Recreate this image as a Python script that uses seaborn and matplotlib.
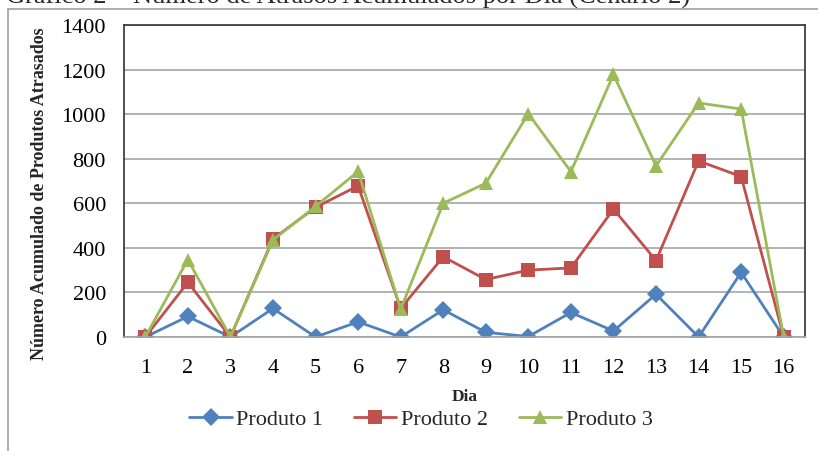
import matplotlib
matplotlib.use("Agg")
import matplotlib.pyplot as plt
from matplotlib.patches import Rectangle
import pandas as pd
import seaborn as sns

dias = list(range(1, 17))
produto_1 = [0, 92, 0, 128, 0, 68, 0, 122, 21, 2, 110, 27, 192, 0, 290, 0]
produto_2 = [0, 245, 0, 440, 582, 678, 128, 360, 258, 300, 310, 574, 343, 790, 720, 0]
produto_3 = [0, 347, 0, 435, 586, 743, 125, 600, 690, 1002, 742, 1178, 768, 1050, 1023, 0]
series_names = ["Produto 1", "Produto 2", "Produto 3"]
series_colors = ["#4F81BD", "#C0504D", "#9BBB59"]
series_markers = ["D", "s", "^"]
y_ticks = [0, 200, 400, 600, 800, 1000, 1200, 1400]

df = pd.DataFrame({
    "Dia": dias * 3,
    "valor": produto_1 + produto_2 + produto_3,
    "serie": sum([[n] * len(dias) for n in series_names], []),
})

sns.set_theme(style="white")
plt.rcParams["font.family"] = ["Liberation Serif", "DejaVu Serif"]

fig = plt.figure(figsize=(8.18, 4.52), dpi=100)
ax = fig.add_axes([124 / 818, 1 - 338 / 452, 681 / 818, 312 / 452])

sns.lineplot(
    data=df, x="Dia", y="valor", hue="serie", style="serie",
    palette=dict(zip(series_names, series_colors)),
    markers=dict(zip(series_names, series_markers)),
    dashes=False, linewidth=2.0, markersize=9.5, markeredgewidth=0,
    ax=ax, legend=True,
)

ax.set_xlim(0.5, 16.5)
ax.set_ylim(0, 1400)
ax.set_xticks(dias)
ax.set_xticklabels([str(d) for d in dias])
ax.set_yticks(y_ticks)
ax.set_yticklabels([str(v) for v in y_ticks])
ax.tick_params(axis="both", labelsize=16, colors="#000000", length=0)
ax.tick_params(axis="x", pad=15)
ax.tick_params(axis="y", pad=13)
ax.yaxis.grid(True, color="#A6A6A6", linewidth=1.2)
ax.xaxis.grid(False)
ax.set_axisbelow(True)

for side in ["left", "top", "right"]:
    ax.spines[side].set_color("#404040")
    ax.spines[side].set_linewidth(1.3)
ax.spines["bottom"].set_color("#A6A6A6")
ax.spines["bottom"].set_linewidth(1.2)

ax.set_xlabel("Dia", fontsize=12.5, fontweight="bold", labelpad=8)
ax.set_ylabel("Número Acumulado de Produtos Atrasados", fontsize=13, fontweight="bold")
ax.yaxis.set_label_coords(-0.112, 0.462)

handles, labels = ax.get_legend_handles_labels()
ax.legend(handles, labels, loc="center", bbox_to_anchor=(421 / 818, 1 - 420 / 452),
          bbox_transform=fig.transFigure, ncol=3, frameon=False, fontsize=16,
          handlelength=1.9, columnspacing=1.4, handletextpad=0.2)

# chart area frame and title
fig.patches.append(Rectangle((8 / 818, -0.1), 1.2, 1 - 10 / 452 + 0.1,
                             transform=fig.transFigure, fill=False,
                             edgecolor="#A0A0A0", linewidth=1.2))
fig.text(348 / 818, 1 - 3.5 / 452, "Gráfico 2 – Número de Atrasos Acumulados por Dia (Cenário 2)",
         ha="center", va="baseline", fontsize=19)

fig.savefig("out.png", dpi=100)
